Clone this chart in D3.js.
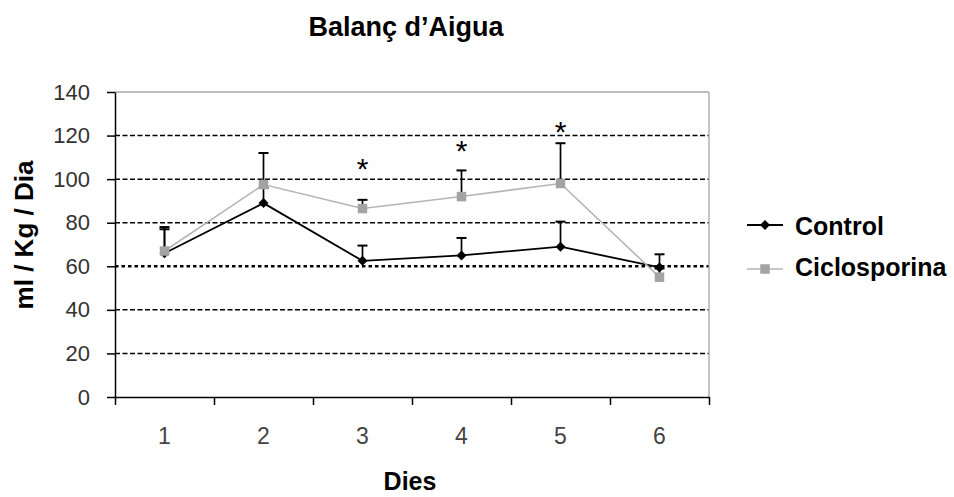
<!DOCTYPE html>
<html>
<head>
<meta charset="utf-8">
<script src="https://cdn.jsdelivr.net/npm/d3@7"></script>
<style>
  html, body { margin: 0; padding: 0; background: #fff; }
  svg { display: block; font-family: "Liberation Sans", Arial, sans-serif; }
</style>
</head>
<body>
<svg id="chart" width="954" height="497"></svg>
<script>
// ---- data ----
const days = ["1", "2", "3", "4", "5", "6"];
const yTicks = [0, 20, 40, 60, 80, 100, 120, 140];
const controlValues = [66, 89, 62.5, 65, 69, 59.5];
const controlErrTop = [78, 96, 69.5, 73, 80.5, 65.5];
const cicloValues = [67, 97.5, 86.5, 92, 98, 55];
const cicloErrTop = [77, 112, 90.5, 104, 116.5, 59];
const starDays = ["3", "4", "5"];
const starLevels = [108, 116, 125];
const seriesNames = ["Control", "Ciclosporina"];

// ---- layout ----
const svg = d3.select("#chart");
const plotL = 115, plotR = 709, plotT = 92, plotB = 397;

const x = d3.scaleBand().domain(days).range([plotL, plotR]).padding(0);
const xEdge = d3.scaleLinear().domain([0, days.length]).range([plotL, plotR]);
const y = d3.scaleLinear().domain([0, 140]).range([plotB, plotT]);

// title
svg.append("text")
  .attr("x", 406).attr("y", 36)
  .attr("text-anchor", "middle")
  .style("font-size", "27px").style("font-weight", "bold").attr("fill", "#000")
  .text("Balanç d’Aigua");

// gridlines
const grid = svg.append("g");
yTicks.filter(t => t > 0 && t < 140).forEach(t => {
  const strong = t === 60;
  grid.append("line")
    .attr("x1", plotL).attr("x2", plotR)
    .attr("y1", y(t)).attr("y2", y(t))
    .attr("stroke", "#000")
    .attr("stroke-width", strong ? 2.6 : 1.5)
    .attr("stroke-dasharray", strong ? "3.5,3" : "5,2.5");
});

// plot frame (top and right, gray)
svg.append("line").attr("x1", plotL).attr("x2", plotR).attr("y1", y(140)).attr("y2", y(140))
  .attr("stroke", "#a8a8a8").attr("stroke-width", 1.3);
svg.append("line").attr("x1", plotR).attr("x2", plotR).attr("y1", y(140)).attr("y2", plotB)
  .attr("stroke", "#a8a8a8").attr("stroke-width", 1.3);

// y axis
const yAxis = svg.append("g")
  .attr("transform", `translate(${plotL},0)`)
  .call(d3.axisLeft(y).tickValues(yTicks).tickSize(8).tickPadding(17).tickSizeOuter(0));
yAxis.select(".domain").attr("stroke", "#000").attr("stroke-width", 1.5);
yAxis.selectAll(".tick line").attr("stroke", "#000").attr("stroke-width", 1.5);
yAxis.selectAll(".tick text").style("font-size", "22px").attr("fill", "#333")
  .style("font-family", "Liberation Sans, Arial, sans-serif");

// x axis: tick marks at category boundaries
const xTickAxis = svg.append("g")
  .attr("transform", `translate(0,${plotB})`)
  .call(d3.axisBottom(xEdge).tickValues(d3.range(0, days.length + 1)).tickSize(8).tickFormat("").tickSizeOuter(0));
xTickAxis.select(".domain").attr("stroke", "#000").attr("stroke-width", 1.5);
xTickAxis.selectAll(".tick line").attr("stroke", "#000").attr("stroke-width", 1.5);

// x axis labels at category centers
const xLabelAxis = svg.append("g")
  .attr("transform", `translate(0,${plotB})`)
  .call(d3.axisBottom(x).tickSize(0).tickPadding(31));
xLabelAxis.select(".domain").remove();
xLabelAxis.selectAll(".tick text").style("font-size", "23px").attr("fill", "#444")
  .style("font-family", "Liberation Sans, Arial, sans-serif");

// axis titles
svg.append("text")
  .attr("transform", "translate(33,235) rotate(-90)")
  .attr("text-anchor", "middle")
  .style("font-size", "26px").style("font-weight", "bold").attr("fill", "#000")
  .text("ml / Kg / Dia");
svg.append("text")
  .attr("x", 410).attr("y", 490)
  .attr("text-anchor", "middle")
  .style("font-size", "25px").style("font-weight", "bold").attr("fill", "#000")
  .text("Dies");

// series
const cx = d => x(d) + x.bandwidth() / 2;
const series = [
  { name: seriesNames[0], values: controlValues, err: controlErrTop, color: "#000", lineW: 1.8, marker: "diamond" },
  { name: seriesNames[1], values: cicloValues, err: cicloErrTop, color: "#b5b5b5", lineW: 1.6, marker: "square", fill: "#a3a3a3" }
];

// error bars (drawn first)
const errG = svg.append("g");
series.forEach(s => {
  days.forEach((d, i) => {
    const xx = cx(d);
    errG.append("line").attr("x1", xx).attr("x2", xx)
      .attr("y1", y(s.values[i])).attr("y2", y(s.err[i]))
      .attr("stroke", "#000").attr("stroke-width", 1.7);
    errG.append("line").attr("x1", xx - 5).attr("x2", xx + 5)
      .attr("y1", y(s.err[i])).attr("y2", y(s.err[i]))
      .attr("stroke", "#000").attr("stroke-width", 2);
  });
});

const line = d3.line().x((v, i) => cx(days[i])).y(v => y(v));
const diamond = d3.symbol().type(d3.symbolDiamond2).size(64);
const square = d3.symbol().type(d3.symbolSquare).size(90);

series.forEach(s => {
  const g = svg.append("g");
  g.append("path").datum(s.values).attr("d", line)
    .attr("fill", "none").attr("stroke", s.color).attr("stroke-width", s.lineW);
  g.selectAll("path.m").data(s.values).join("path").attr("class", "m")
    .attr("transform", (v, i) => `translate(${cx(days[i])},${y(v)})`)
    .attr("d", s.marker === "diamond" ? diamond : square)
    .attr("fill", s.marker === "diamond" ? "#000" : s.fill);
});

// significance asterisks
svg.selectAll("text.star").data(starDays).join("text").attr("class", "star")
  .attr("x", d => cx(d))
  .attr("y", (d, i) => y(starLevels[i]) + 17)
  .attr("text-anchor", "middle")
  .style("font-size", "30px").attr("fill", "#000")
  .text("*");

// legend
const leg = svg.append("g");
const legY = [225, 269];
const legBase = [235, 276];
series.forEach((s, i) => {
  leg.append("line").attr("x1", 747).attr("x2", 783).attr("y1", legY[i]).attr("y2", legY[i])
    .attr("stroke", s.color).attr("stroke-width", s.lineW);
  leg.append("path").attr("transform", `translate(765,${legY[i]})`)
    .attr("d", s.marker === "diamond" ? diamond : square)
    .attr("fill", s.marker === "diamond" ? "#000" : s.fill);
  leg.append("text").attr("x", 795).attr("y", legBase[i])
    .style("font-size", "25px").style("font-weight", "bold").attr("fill", "#000")
    .text(s.name);
});
</script>
</body>
</html>
